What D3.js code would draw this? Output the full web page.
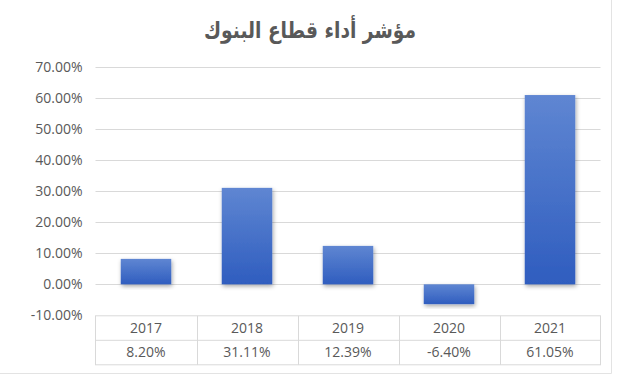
<!DOCTYPE html>
<html>
<head>
<meta charset="utf-8">
<script src="https://cdn.jsdelivr.net/npm/d3@7"></script>
<style>
  body { margin: 0; background: #fff; }
  svg { display: block; }
  .tick text { font-family: 'Open Sans', sans-serif; font-size: 14px; fill: #595959; }
</style>
</head>
<body>
<svg></svg>
<script>
'use strict';
// chart data
var title = 'مؤشر أداء قطاع البنوك';
var years = ['2017', '2018', '2019', '2020', '2021'];
var values = [8.20, 31.11, 12.39, -6.40, 61.05];
var yTicks = [-10, 0, 10, 20, 30, 40, 50, 60, 70];

var canvasWidth = 621;
var canvasHeight = 375;
var plot = { left: 95.5, right: 600.5, top: 67.3, bottom: 315.3 };
var rowHeight = 24.5;

var svg = d3.select('svg')
  .attr('width', canvasWidth)
  .attr('height', canvasHeight);

// gradient + shadow for the bars
var defs = svg.append('defs');
var grad = defs.append('linearGradient')
  .attr('id', 'barGrad')
  .attr('x1', 0).attr('y1', 0).attr('x2', 0).attr('y2', 1);
grad.append('stop').attr('offset', '0%').attr('stop-color', '#5f86d2');
grad.append('stop').attr('offset', '100%').attr('stop-color', '#2f5dbf');
var shadow = defs.append('filter')
  .attr('id', 'shadow')
  .attr('x', '-20%').attr('y', '-20%').attr('width', '140%').attr('height', '140%');
shadow.append('feDropShadow')
  .attr('dx', 1).attr('dy', 2)
  .attr('stdDeviation', 2)
  .attr('flood-color', '#000')
  .attr('flood-opacity', 0.35);

// outer chart border (only right and bottom visible)
svg.append('path')
  .attr('d', 'M611.5,0 V373.5 H0')
  .attr('fill', 'none')
  .attr('stroke', '#e3e3e3');

// title
svg.append('text')
  .attr('x', 310)
  .attr('y', 38)
  .attr('text-anchor', 'middle')
  .attr('textLength', 212)
  .attr('lengthAdjust', 'spacingAndGlyphs')
  .style('font-family', "'DejaVu Sans', sans-serif")
  .style('font-weight', 'bold')
  .style('font-size', '23px')
  .style('fill', '#595959')
  .text(title);

var xScale = d3.scaleBand()
  .domain(years)
  .range([plot.left, plot.right])
  .paddingInner(0.5)
  .paddingOuter(0.25);
var yScale = d3.scaleLinear()
  .domain([-10, 70])
  .range([plot.bottom, plot.top]);

// gridlines
svg.append('g')
  .selectAll('line')
  .data(yTicks.filter(function(t) { return t > -10; }))
  .enter().append('line')
  .attr('x1', plot.left)
  .attr('x2', plot.right)
  .attr('y1', function(d) { return Math.round(yScale(d)) + 0.5; })
  .attr('y2', function(d) { return Math.round(yScale(d)) + 0.5; })
  .attr('stroke', '#d9d9d9');

// y axis labels
var yAxis = svg.append('g')
  .attr('transform', 'translate(' + (plot.left - 13) + ',0)')
  .call(d3.axisLeft(yScale)
    .tickValues(yTicks)
    .tickSize(0)
    .tickPadding(0)
    .tickFormat(function(d) { return d.toFixed(2) + '%'; }));
yAxis.select('.domain').remove();

// bars
svg.append('g')
  .selectAll('rect')
  .data(values)
  .enter().append('rect')
  .attr('x', function(d, i) { return xScale(years[i]); })
  .attr('width', xScale.bandwidth())
  .attr('y', function(d) { return yScale(Math.max(0, d)); })
  .attr('height', function(d) { return Math.abs(yScale(d) - yScale(0)); })
  .attr('fill', 'url(#barGrad)')
  .attr('filter', 'url(#shadow)');

// data table
var table = svg.append('g').attr('class', 'table');
var tTop = plot.bottom + 0.5;
var step = xScale.step();
table.append('rect')
  .attr('x', plot.left)
  .attr('y', tTop)
  .attr('width', plot.right - plot.left)
  .attr('height', rowHeight * 2)
  .attr('fill', 'none')
  .attr('stroke', '#d9d9d9');
table.append('line')
  .attr('x1', plot.left).attr('x2', plot.right)
  .attr('y1', tTop + rowHeight).attr('y2', tTop + rowHeight)
  .attr('stroke', '#d9d9d9');
table.selectAll('.sep')
  .data(years.slice(1))
  .enter().append('line')
  .attr('class', 'sep')
  .attr('x1', function(d) { return Math.round(xScale(d) - step * 0.25) + 0.5; })
  .attr('x2', function(d) { return Math.round(xScale(d) - step * 0.25) + 0.5; })
  .attr('y1', tTop).attr('y2', tTop + rowHeight * 2)
  .attr('stroke', '#d9d9d9');

var cellText = function(sel) {
  sel.attr('text-anchor', 'middle')
    .attr('dy', '0.35em')
    .style('font-family', "'Open Sans', sans-serif")
    .style('font-size', '14px')
    .style('fill', '#595959');
};
table.selectAll('.yr')
  .data(years)
  .enter().append('text')
  .attr('class', 'yr')
  .attr('x', function(d) { return xScale(d) + xScale.bandwidth() / 2; })
  .attr('y', tTop + rowHeight / 2)
  .call(cellText)
  .text(function(d) { return d; });
table.selectAll('.val')
  .data(values)
  .enter().append('text')
  .attr('class', 'val')
  .attr('x', function(d, i) { return xScale(years[i]) + xScale.bandwidth() / 2; })
  .attr('y', tTop + rowHeight * 1.5)
  .call(cellText)
  .text(function(d) { return d.toFixed(2) + '%'; });
</script>
</body>
</html>
